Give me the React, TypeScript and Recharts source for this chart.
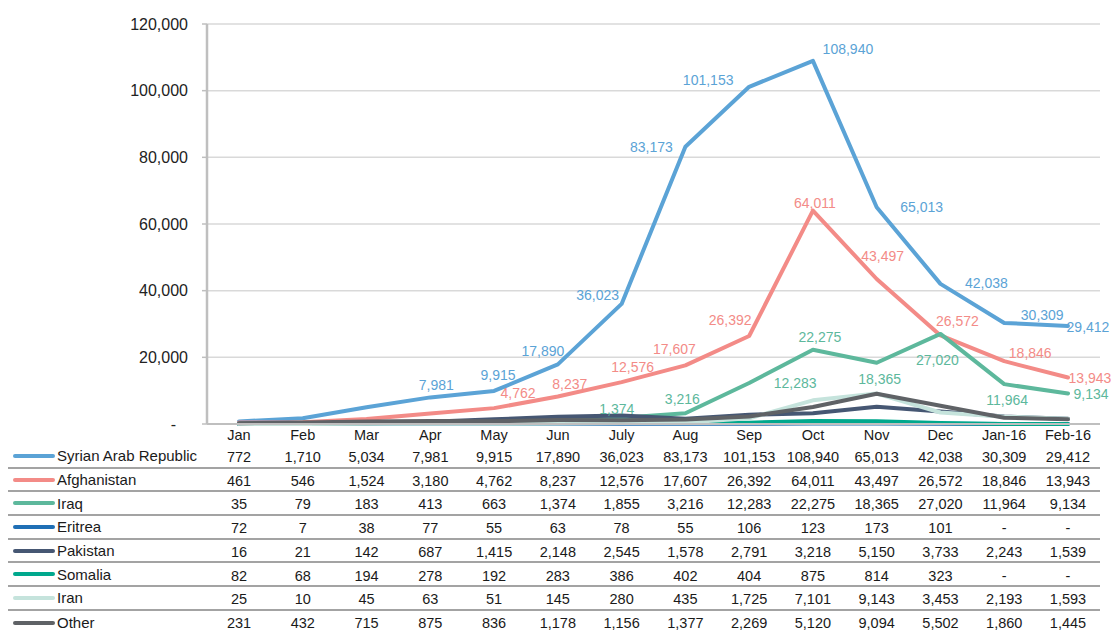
import React from 'react';
import { LineChart, Line, XAxis, YAxis, CartesianGrid, LabelList, Legend } from 'recharts';

const months = ['Jan', 'Feb', 'Mar', 'Apr', 'May', 'Jun', 'July', 'Aug', 'Sep', 'Oct', 'Nov', 'Dec', 'Jan-16', 'Feb-16'];
const syria = [772, 1710, 5034, 7981, 9915, 17890, 36023, 83173, 101153, 108940, 65013, 42038, 30309, 29412];
const afghanistan = [461, 546, 1524, 3180, 4762, 8237, 12576, 17607, 26392, 64011, 43497, 26572, 18846, 13943];
const iraq = [35, 79, 183, 413, 663, 1374, 1855, 3216, 12283, 22275, 18365, 27020, 11964, 9134];
const eritrea = [72, 7, 38, 77, 55, 63, 78, 55, 106, 123, 173, 101, 0, 0];
const pakistan = [16, 21, 142, 687, 1415, 2148, 2545, 1578, 2791, 3218, 5150, 3733, 2243, 1539];
const somalia = [82, 68, 194, 278, 192, 283, 386, 402, 404, 875, 814, 323, 0, 0];
const iran = [25, 10, 45, 63, 51, 145, 280, 435, 1725, 7101, 9143, 3453, 2193, 1593];
const other = [231, 432, 715, 875, 836, 1178, 1156, 1377, 2269, 5120, 9094, 5502, 1860, 1445];
const yTicks = [0, 20000, 40000, 60000, 80000, 100000, 120000];

// label placement (offset of label centre from its point), null = no label
const syriaLabelPos: (number[] | null)[] = [null, null, null, [6, -12], [4, -16], [-15, -13], [-24, -9], [-34, 0], [-41, -7], [35, -12], [45, 0], [46, -1], [38, -8], [20, 1]];
const afghanLabelPos: (number[] | null)[] = [null, null, null, null, [24, -15], [12, -13], [11, -15], [-11, -16], [-19, -16], [2, -8], [6, -23], [17, -14], [26, -8], [22, 0]];
const iraqLabelPos: (number[] | null)[] = [null, null, null, null, null, [59, -10], null, [-3, -14], [46, 0], [7, -13], [3, 16], [-3, 26], [3, 16], [23, 0]];

const FONT = "'Liberation Sans', Arial, sans-serif";

const series = [
  { key: 'syria', name: 'Syrian Arab Republic', color: '#5BA3D6', values: syria, labels: syriaLabelPos },
  { key: 'afghanistan', name: 'Afghanistan', color: '#F38B87', values: afghanistan, labels: afghanLabelPos },
  { key: 'iraq', name: 'Iraq', color: '#5DB89C', values: iraq, labels: iraqLabelPos },
  { key: 'eritrea', name: 'Eritrea', color: '#1F6FB5', values: eritrea, labels: null },
  { key: 'pakistan', name: 'Pakistan', color: '#465773', values: pakistan, labels: null },
  { key: 'somalia', name: 'Somalia', color: '#00A88D', values: somalia, labels: null },
  { key: 'iran', name: 'Iran', color: '#C5E3DC', values: iran, labels: null },
  { key: 'other', name: 'Other', color: '#5F6266', values: other, labels: null },
];

const data = months.map((m, i) => {
  const row: any = { month: m };
  series.forEach((s) => {
    row[s.key] = s.values[i];
  });
  return row;
});

const fmt = (v: number) => (v === 0 ? '-' : v.toLocaleString('en-US'));

const makeLabel = (pos: (number[] | null)[], color: string) => (props: any) => {
  const { x, y, value, index } = props;
  const p = pos[index];
  if (!p || x == null || y == null) return null;
  return (
    <text
      x={x + p[0]}
      y={y + p[1]}
      textAnchor="middle"
      dominantBaseline="central"
      fill={color}
      fontSize={14}
      fontFamily={FONT}
    >
      {fmt(value)}
    </text>
  );
};

const ROW0 = 33;
const ROWH = 23.7;

const TableTick = (props: any) => {
  const { x, y, payload } = props;
  const i = months.indexOf(payload.value);
  return (
    <g>
      <text x={x} y={y + 11} textAnchor="middle" dominantBaseline="central" fill="#1a1a1a" fontSize={14.5} fontFamily={FONT}>
        {payload.value}
      </text>
      {series.map((s, r) => (
        <text
          key={s.key}
          x={x}
          y={y + ROW0 + ROWH * r}
          textAnchor="middle"
          dominantBaseline="central"
          fill="#1a1a1a"
          fontSize={14.5}
          fontFamily={FONT}
        >
          {fmt(s.values[i])}
        </text>
      ))}
    </g>
  );
};

const YTick = (props: any) => {
  const { x, y, payload } = props;
  const v = payload.value;
  return (
    <text
      x={v === 0 ? x - 12 : x}
      y={y}
      dy="0.35em"
      textAnchor="end"
      fill="#222"
      fontSize={16}
      fontFamily={FONT}
    >
      {v === 0 ? '-' : v.toLocaleString('en-US')}
    </text>
  );
};

const TableLegend = () => (
  <div style={{ width: 1092, fontFamily: FONT, fontSize: 15, color: '#1a1a1a' }}>
    {series.map((s, i) => (
      <div
        key={s.key}
        style={{
          height: ROWH,
          boxSizing: 'border-box',
          borderBottom: i < series.length - 1 ? '2px solid #a3a3a3' : 'none',
          display: 'flex',
          alignItems: 'center',
        }}
      >
        <span style={{ display: 'inline-block', width: 42, height: 4, borderRadius: 2, background: s.color, marginLeft: 5, marginRight: 2 }} />
        <span>{s.name}</span>
      </div>
    ))}
  </div>
);

export default function App() {
  return (
    <LineChart
      width={1111}
      height={624}
      data={data}
      margin={{ top: 16, right: 19, bottom: 0, left: 0 }}
      style={{ fontFamily: FONT }}
    >
      <CartesianGrid horizontal vertical={false} stroke="#D9D9D9" strokeWidth={1.5} />
      <XAxis
        dataKey="month"
        interval={0}
        padding={{ left: 32, right: 32 }}
        height={208}
        tickLine={false}
        tickSize={0}
        tickMargin={0}
        axisLine={{ stroke: '#BFBFBF', strokeWidth: 2 }}
        tick={<TableTick />}
      />
      <YAxis
        width={199}
        domain={[0, 120000]}
        ticks={yTicks}
        interval={0}
        tickSize={5}
        tickMargin={14}
        tickLine={{ stroke: '#BFBFBF', strokeWidth: 1.5 }}
        axisLine={{ stroke: '#BFBFBF', strokeWidth: 2.5 }}
        tick={<YTick />}
      />
      <Legend
        layout="vertical"
        align="center"
        verticalAlign="middle"
        content={<TableLegend />}
        wrapperStyle={{ left: 0, top: 437, width: 1092, height: 190 }}
      />
      {series.map((s) => (
        <Line
          key={s.key}
          dataKey={s.key}
          name={s.name}
          stroke={s.color}
          strokeWidth={4}
          strokeLinejoin="round"
          strokeLinecap="round"
          dot={false}
          activeDot={false}
          isAnimationActive={false}
          type="linear"
        >
          {s.labels ? <LabelList dataKey={s.key} content={makeLabel(s.labels, s.color)} /> : null}
        </Line>
      ))}
    </LineChart>
  );
}
